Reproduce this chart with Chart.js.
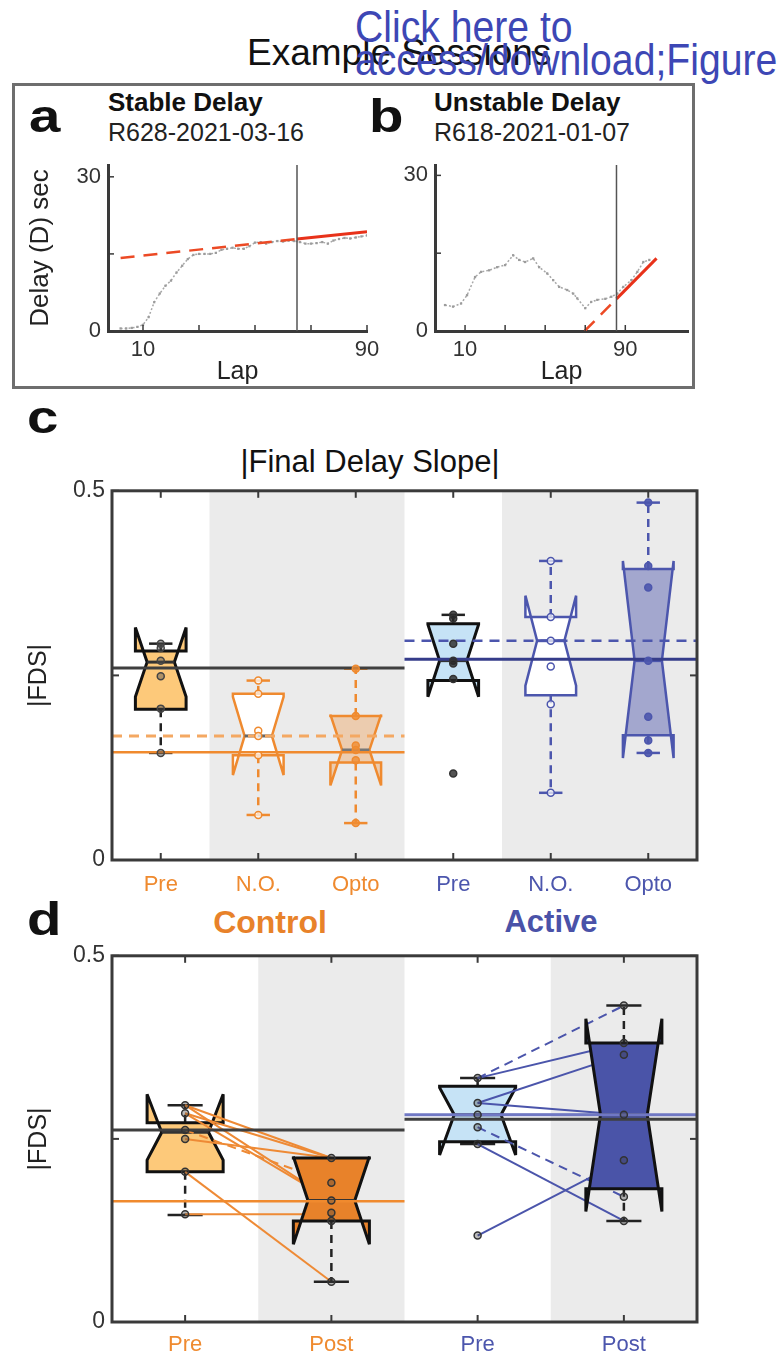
<!DOCTYPE html>
<html><head><meta charset="utf-8">
<script src="https://cdn.jsdelivr.net/npm/chart.js@4.4.1/dist/chart.umd.min.js"></script>
<style>
html,body{margin:0;padding:0;background:#fff;}
body{width:778px;height:1357px;position:relative;overflow:hidden;font-family:"Liberation Sans",Arial,sans-serif;}
.t{position:absolute;white-space:nowrap;line-height:1;}
.cond{transform:scaleX(0.89);transform-origin:left top;}
.lett{transform:scaleX(1.2);transform-origin:left top;font-weight:bold;font-size:47px;color:#111;}
canvas{position:absolute;}
#frame{position:absolute;left:12px;top:83px;width:677px;height:300px;border:3px solid #6e6e6e;}
</style></head><body>
<div id="frame"></div>
<div class="t" style="left:247px;top:34px;font-size:37px;color:#111">Example Sessions</div>
<div class="t cond" style="left:355px;top:5px;font-size:44px;color:#3d47b5">Click here to</div>
<div class="t cond" style="left:355px;top:38px;font-size:44px;color:#3d47b5">access/download;Figure</div>
<div class="t lett" style="left:29px;top:92px;">a</div>
<div class="t" style="left:108px;top:89px;font-size:26px;font-weight:bold;color:#111">Stable Delay</div>
<div class="t" style="left:108px;top:120px;font-size:25px;color:#222">R628-2021-03-16</div>
<div class="t lett" style="left:369px;top:92px;">b</div>
<div class="t" style="left:434px;top:89px;font-size:26px;font-weight:bold;color:#111">Unstable Delay</div>
<div class="t" style="left:434px;top:120px;font-size:25px;color:#222">R618-2021-01-07</div>
<div class="t lett" style="left:27px;top:393px;">c</div>
<div class="t" style="left:0px;width:740px;text-align:center;top:446px;font-size:31px;color:#111">|Final Delay Slope|</div>
<div class="t lett" style="left:27px;top:895px;">d</div>
<div class="t" style="left:170px;width:200px;text-align:center;top:906px;font-size:32px;font-weight:bold;color:#e8822a">Control</div>
<div class="t" style="left:451px;width:200px;text-align:center;top:906px;font-size:31px;font-weight:bold;color:#4a52a8">Active</div>
<script>
// ---------- DATA ----------
// Panel a (stable delay session)
const aLaps  = [2,4,6,8,10,12,14,16,18,20,22,24,26,28,30,32,34,36,38,40,42,44,46,48,50,52,54,56,58,60,62,64,66,68,70,72,74,76,78,80,82,84,86,88,90];
const aDelay = [0.5,0.5,0.6,0.8,1.2,2.7,5.6,7.3,8.8,9.8,11.4,12.7,14.0,14.8,15.0,15.0,15.0,15.2,15.8,16.0,16.2,16.0,16.0,16.5,17.2,17.3,17.0,17.3,17.5,17.4,17.6,17.5,17.3,17.0,17.0,17.1,17.3,17.0,17.6,17.9,18.1,18.0,18.2,18.4,18.6];
const aFitLaps = [2, 65, 90];
const aFitVals = [14.2, 17.9, 19.3];
const aBoundaryLap = 65;
// Panel b (unstable delay session)
const bLaps  = [0,4,8,11,15,18,22,26,30,34,37,40,44,47,51,54,57,61,64,66,70,73,76,80,83,86,89,93,96,99,102];
const bDelay = [5.0,4.7,5.3,6.9,10.4,11.4,11.7,12.3,12.7,14.6,13.7,13.3,14.0,12.3,11.1,9.8,8.5,7.9,7.2,6.3,4.4,5.6,6.0,6.2,6.6,7.2,8.5,9.8,11.4,13.3,13.7];
const bFitLaps = [69.7, 85.6, 105.6];
const bFitVals = [0, 6.2, 14.0];
const bBoundaryLap = 85.6;
const delayTicks = [0, 15, 30];
const delayTickLabels = ['0', '', '30'];
const lapTicks = [10, 30, 50, 70, 90];
const lapTickLabels = ['10', '', '', '', '90'];

// Panel c: |FDS| by condition
const cCategories = ['Pre', 'N.O.', 'Opto', 'Pre', 'N.O.', 'Opto'];
const cQ1      = [0.204, 0.142, 0.132, 0.243, 0.223, 0.169];
const cMedian  = [0.268, 0.168, 0.149, 0.270, 0.297, 0.270];
const cQ3      = [0.283, 0.225, 0.195, 0.320, 0.329, 0.394];
const cNotchLo = [0.221, 0.115, 0.101, 0.221, 0.236, 0.138];
const cNotchHi = [0.315, 0.221, 0.197, 0.319, 0.358, 0.405];
const cWhiskLo = [0.145, 0.061, 0.050, 0.243, 0.091, 0.145];
const cWhiskHi = [0.293, 0.243, 0.259, 0.332, 0.405, 0.484];
const cCtrlPrePts  = [0.293, 0.287, 0.270, 0.249, 0.205, 0.145];
const cCtrlNOPts   = [0.243, 0.225, 0.175, 0.168, 0.142, 0.061];
const cCtrlOptoPts = [0.259, 0.195, 0.155, 0.149, 0.135, 0.050];
const cActPrePts   = [0.332, 0.327, 0.293, 0.270, 0.266, 0.245, 0.117];
const cActNOPts    = [0.405, 0.329, 0.297, 0.262, 0.211, 0.091];
const cActOptoPts  = [0.484, 0.398, 0.369, 0.270, 0.194, 0.162, 0.145];
const cRefValue = [0.260, 0.146, 0.168, 0.272, 0.297];
const cRefFrom  = [0.5, 0.5, 0.5, 3.5, 3.5];
const cRefTo    = [3.5, 3.5, 3.5, 6.5, 6.5];
const cBands = [[1.5, 3.5], [4.5, 6.5]];

// Panel d: Pre vs Post
const dCategories = ['Pre', 'Post', 'Pre', 'Post'];
const dQ1      = [0.205, 0.138, 0.246, 0.182];
const dMedian  = [0.259, 0.166, 0.283, 0.283];
const dQ3      = [0.272, 0.224, 0.322, 0.381];
const dNotchLo = [0.221, 0.106, 0.228, 0.151];
const dNotchHi = [0.311, 0.226, 0.320, 0.414];
const dWhiskLo = [0.146, 0.055, 0.243, 0.138];
const dWhiskHi = [0.296, 0.224, 0.333, 0.432];
const dCtrlPrePts  = [0.296, 0.285, 0.262, 0.250, 0.205, 0.147];
const dCtrlPostPts = [0.224, 0.190, 0.166, 0.149, 0.138, 0.055];
const dActPrePts   = [0.333, 0.299, 0.283, 0.266, 0.243, 0.118];
const dActPostPts  = [0.432, 0.381, 0.365, 0.283, 0.221, 0.171, 0.138];
const dCtrlPairPre  = [0.296, 0.296, 0.285, 0.285, 0.250, 0.262, 0.205, 0.147];
const dCtrlPairPost = [0.224, 0.166, 0.224, 0.166, 0.224, 0.190, 0.055, 0.147];
const dCtrlPairDashed = [0, 0, 0, 0, 0, 1, 0, 0];
const dActPairPre  = [0.333, 0.333, 0.299, 0.299, 0.283, 0.266, 0.243, 0.118];
const dActPairPost = [0.432, 0.381, 0.365, 0.283, 0.283, 0.171, 0.138, 0.221];
const dActPairDashed = [1, 0, 0, 0, 0, 1, 0, 0];
const dRefValue = [0.262, 0.165, 0.277, 0.283];
const dRefFrom  = [0.5, 0.5, 2.5, 2.5];
const dRefTo    = [2.5, 2.5, 4.5, 4.5];
const dBands = [[1.5, 2.5], [3.5, 4.5]];
const fdsTicks = [0, 0.25, 0.5];
const fdsTickLabels = ['0', '', '0.5'];

// ---------- STYLES ----------
const ORANGE = '#ef8a2f', BLUE = '#4c56ad', AXIS = '#3a3a3a';
const cLabelColor = [ORANGE, ORANGE, ORANGE, BLUE, BLUE, BLUE];
const dLabelColor = [ORANGE, ORANGE, BLUE, BLUE];
const cFill  = ['#fdc97a', '#ffffff', 'rgba(240,140,50,0.32)', '#c6e3f6', '#ffffff', 'rgba(75,85,170,0.45)'];
const cEdge  = ['#111111', ORANGE, ORANGE, '#111111', BLUE, BLUE];
const cEdgeW = [3, 2.5, 2.5, 3, 2.5, 2.5];
const cMedC  = ['#333', '#666', '#777', '#333', BLUE, BLUE];
const cPtEdge = ['#444', ORANGE, ORANGE, '#333', BLUE, BLUE];
const cPtFill = ['rgba(80,80,80,0.45)', 'rgba(255,255,255,0.7)', 'rgba(240,140,50,0.8)', 'rgba(40,40,40,0.8)', 'rgba(255,255,255,0.7)', 'rgba(76,86,173,0.9)'];
const cRefColor = ['#3f3f3f', '#f08a2e', '#f4a862', '#353c8a', BLUE];
const cRefWidth = [3, 2.5, 3, 3, 2.5];
const cRefDash  = [[], [], [10, 7], [], [10, 7]];
const dFill  = ['#fdc97a', '#e8822a', '#c6e3f6', '#4a54a8'];
const dLayer = ['under', 'over', 'under', 'over'];
const dRefColor = ['#3f3f3f', '#f08a2e', '#3f3f3f', '#7078c4'];
const dRefWidth = [3, 2.5, 3, 3];

Chart.defaults.font.family = '"Liberation Sans", Arial, sans-serif';
Chart.defaults.color = '#222';
Chart.defaults.animation = false;
Chart.defaults.plugins.legend.display = false;
Chart.defaults.plugins.tooltip.enabled = false;

function placeCanvas(cv) {
  const c = document.createElement('canvas');
  c.width = cv.w; c.height = cv.h;
  c.style.left = cv.left + 'px'; c.style.top = cv.top + 'px';
  c.style.width = cv.w + 'px'; c.style.height = cv.h + 'px';
  document.body.appendChild(c);
  return c;
}
function line(ctx, x0, y0, x1, y1) { ctx.beginPath(); ctx.moveTo(x0, y0); ctx.lineTo(x1, y1); ctx.stroke(); }

// ---------- PANELS a / b ----------
function lapChart(cv, area, xmin, xmax, ymax, laps, delay, fitLaps, fitVals, boundary, yTitle) {
  const canvas = placeCanvas(cv);
  const xH = cv.top + cv.h - area.b, yW = area.l - cv.left;
  const tickPlugin = {
    id: 'inTicks',
    afterDatasetsDraw(chart) {
      const {ctx, chartArea: a, scales: {x, y}} = chart;
      ctx.save(); ctx.strokeStyle = AXIS; ctx.lineWidth = 1.5;
      x.ticks.forEach(t => { const p = x.getPixelForValue(t.value); line(ctx, p, a.bottom, p, a.bottom - 6); });
      y.ticks.forEach(t => { const p = y.getPixelForValue(t.value); line(ctx, a.left, p, a.left + 6, p); });
      ctx.restore();
    }
  };
  new Chart(canvas, {
    type: 'scatter',
    data: { datasets: [
      { data: [{x: boundary, y: 0}, {x: boundary, y: ymax}], showLine: true, borderColor: '#555', borderWidth: 1.5, pointRadius: 0, order: 0 },
      { data: [{x: fitLaps[1], y: fitVals[1]}, {x: fitLaps[2], y: fitVals[2]}], showLine: true, borderColor: '#e8321a', borderWidth: 3, pointRadius: 0, order: 1 },
      { data: [{x: fitLaps[0], y: fitVals[0]}, {x: fitLaps[1], y: fitVals[1]}], showLine: true, borderColor: '#ec4a25', borderWidth: 2.5, borderDash: [14, 9], pointRadius: 0, order: 1 },
      { data: laps.map((l, i) => ({x: l, y: delay[i]})), showLine: true, borderColor: '#a8a8a8', borderWidth: 1.5, borderDash: [2, 2],
        pointStyle: 'rect', pointRadius: 1.6, pointBackgroundColor: '#9c9c9c', pointBorderWidth: 0, order: 2 }
    ]},
    options: {
      responsive: false, devicePixelRatio: 1,
      layout: { padding: { left: 0, top: area.t - cv.top, right: cv.left + cv.w - area.r, bottom: 0 } },
      scales: {
        x: { type: 'linear', min: xmin, max: xmax,
          afterBuildTicks: s => { s.ticks = lapTicks.map(v => ({value: v})); },
          afterFit: s => { s.height = xH; },
          ticks: { callback: (v, i) => lapTickLabels[i], autoSkip: false, maxRotation: 0, padding: 6, font: {size: 22}, color: '#333' },
          grid: { display: false, drawTicks: false },
          border: { display: true, color: AXIS, width: 3 },
          title: { display: true, text: 'Lap', font: {size: 25}, color: '#222', padding: {top: 0, bottom: 5} } },
        y: { type: 'linear', min: 0, max: ymax,
          afterBuildTicks: s => { s.ticks = delayTicks.map(v => ({value: v})); },
          afterFit: s => { s.width = yW; },
          ticks: { callback: (v, i) => delayTickLabels[i], autoSkip: false, padding: 7, font: {size: 22}, color: '#333' },
          grid: { display: false, drawTicks: false },
          border: { display: true, color: AXIS, width: 3 },
          title: { display: !!yTitle, text: yTitle || '', font: {size: 26}, color: '#222', padding: {top: 1, bottom: 0} } }
      }
    },
    plugins: [tickPlugin]
  });
}
lapChart({left: 24, top: 140, w: 366, h: 252}, {l: 108, t: 165, r: 367, b: 331}, -2.5, 90, 32.3, aLaps, aDelay, aFitLaps, aFitVals, aBoundaryLap, 'Delay (D) sec');
lapChart({left: 380, top: 140, w: 312, h: 252}, {l: 435, t: 165, r: 692, b: 331}, -5, 121.3, 32, bLaps, bDelay, bFitLaps, bFitVals, bBoundaryLap, null);

// ---------- PANELS c / d (notched boxes) ----------
function drawBox(ctx, xs, ys, b, geo) {
  const X = v => xs.getPixelForValue(v), Y = v => ys.getPixelForValue(v);
  const L = X(b.x - geo.hw), R = X(b.x + geo.hw), NL = X(b.x - geo.nw), NR = X(b.x + geo.nw), C = X(b.x);
  const CL = X(b.x - geo.cw), CR = X(b.x + geo.cw);
  ctx.save();
  ctx.strokeStyle = b.whisk; ctx.lineWidth = 2.5; ctx.setLineDash([8, 6]);
  if (b.whi > b.q3) line(ctx, C, Y(b.q3), C, Y(b.whi));
  if (b.wlo < b.q1) line(ctx, C, Y(b.q1), C, Y(b.wlo));
  ctx.setLineDash([]);
  if (b.whi > b.q3) line(ctx, CL, Y(b.whi), CR, Y(b.whi));
  if (b.wlo < b.q1) line(ctx, CL, Y(b.wlo), CR, Y(b.wlo));
  ctx.beginPath();
  ctx.moveTo(L, Y(b.q1)); ctx.lineTo(L, Y(b.nlo)); ctx.lineTo(NL, Y(b.med)); ctx.lineTo(L, Y(b.nhi)); ctx.lineTo(L, Y(b.q3));
  ctx.lineTo(R, Y(b.q3)); ctx.lineTo(R, Y(b.nhi)); ctx.lineTo(NR, Y(b.med)); ctx.lineTo(R, Y(b.nlo)); ctx.lineTo(R, Y(b.q1));
  ctx.closePath();
  ctx.fillStyle = b.fill; ctx.fill();
  ctx.lineJoin = 'miter'; ctx.miterLimit = 3;
  ctx.strokeStyle = b.edge; ctx.lineWidth = b.ew; ctx.stroke();
  ctx.strokeStyle = b.medC; ctx.lineWidth = 3;
  line(ctx, NL, Y(b.med), NR, Y(b.med));
  ctx.restore();
}
function boxPlugin(boxes, bands, geo) {
  return {
    id: 'notchBoxes',
    beforeDraw(chart) {
      const {ctx, chartArea: a, scales: {x}} = chart;
      ctx.save(); ctx.fillStyle = '#ebebeb';
      bands.forEach(([b0, b1]) => { const p0 = x.getPixelForValue(b0), p1 = x.getPixelForValue(b1); ctx.fillRect(p0, a.top, p1 - p0, a.bottom - a.top); });
      ctx.restore();
    },
    beforeDatasetsDraw(chart) {
      boxes.filter(b => b.layer === 'under').forEach(b => drawBox(chart.ctx, chart.scales.x, chart.scales.y, b, geo));
    },
    afterDatasetDraw(chart, args) {
      if (chart.data.datasets[args.index].boxesAfter)
        boxes.filter(b => b.layer === 'over').forEach(b => drawBox(chart.ctx, chart.scales.x, chart.scales.y, b, geo));
    },
    afterDatasetsDraw(chart) {
      const {ctx, chartArea: a, scales: {x, y}} = chart;
      ctx.save(); ctx.strokeStyle = AXIS; ctx.lineWidth = 2;
      x.ticks.forEach(t => { const p = x.getPixelForValue(t.value); line(ctx, p, a.bottom, p, a.bottom - 7); line(ctx, p, a.top, p, a.top + 7); });
      y.ticks.forEach(t => { const p = y.getPixelForValue(t.value); line(ctx, a.left, p, a.left + 7, p); line(ctx, a.right, p, a.right - 7, p); });
      ctx.lineWidth = 3; ctx.strokeRect(a.left, a.top, a.right - a.left, a.bottom - a.top);
      ctx.restore();
    }
  };
}
function fdsChart(cv, area, xmax, cats, labelColors, datasets, plugin, labelPad) {
  const canvas = placeCanvas(cv);
  const xH = cv.top + cv.h - area.b, yW = area.l - cv.left;
  const xt = cats.map((_, i) => i + 1);
  new Chart(canvas, {
    type: 'scatter',
    data: { datasets },
    options: {
      responsive: false, devicePixelRatio: 1,
      layout: { padding: { left: 0, top: area.t - cv.top, right: cv.left + cv.w - area.r, bottom: 0 } },
      scales: {
        x: { type: 'linear', min: 0.5, max: xmax,
          afterBuildTicks: s => { s.ticks = xt.map(v => ({value: v})); },
          afterFit: s => { s.height = xH; },
          ticks: { callback: (v, i) => cats[i], autoSkip: false, maxRotation: 0, padding: labelPad, font: {size: 22}, color: c => labelColors[c.index] },
          grid: { display: false, drawTicks: false }, border: { display: false } },
        y: { type: 'linear', min: 0, max: 0.5,
          afterBuildTicks: s => { s.ticks = fdsTicks.map(v => ({value: v})); },
          afterFit: s => { s.width = yW; },
          ticks: { callback: (v, i) => fdsTickLabels[i], autoSkip: false, padding: 7, font: {size: 23}, color: '#333' },
          grid: { display: false, drawTicks: false }, border: { display: false },
          title: { display: true, text: '|FDS|', font: {size: 25}, color: '#222', padding: {top: 4, bottom: 0} } }
      }
    },
    plugins: [plugin]
  });
}

// panel c
const cPts = [cCtrlPrePts, cCtrlNOPts, cCtrlOptoPts, cActPrePts, cActNOPts, cActOptoPts];
const cBoxes = cQ1.map((_, i) => ({ x: i + 1, q1: cQ1[i], med: cMedian[i], q3: cQ3[i], nlo: cNotchLo[i], nhi: cNotchHi[i],
  wlo: cWhiskLo[i], whi: cWhiskHi[i], fill: cFill[i], edge: cEdge[i], ew: cEdgeW[i], whisk: cEdge[i] === '#111111' ? '#222' : cEdge[i], medC: cMedC[i], layer: 'under' }));
const cDatasets = [];
cPts.forEach((arr, i) => cDatasets.push({ data: arr.map(v => ({x: i + 1, y: v})), pointRadius: 3.5, pointBorderWidth: 1.5,
  pointBorderColor: cPtEdge[i], pointBackgroundColor: cPtFill[i], order: 0 }));
cRefValue.forEach((v, i) => cDatasets.push({ data: [{x: cRefFrom[i], y: v}, {x: cRefTo[i], y: v}], showLine: true,
  borderColor: cRefColor[i], borderWidth: cRefWidth[i], borderDash: cRefDash[i], pointRadius: 0, order: 1 }));
fdsChart({left: 20, top: 470, w: 700, h: 425}, {l: 112, t: 490, r: 697, b: 860}, 6.5, cCategories, cLabelColor, cDatasets,
  boxPlugin(cBoxes, cBands, {hw: 0.26, nw: 0.14, cw: 0.12}), 12);

// panel d
const dPts = [dCtrlPrePts, dCtrlPostPts, dActPrePts, dActPostPts];
const dBoxes = dQ1.map((_, i) => ({ x: i + 1, q1: dQ1[i], med: dMedian[i], q3: dQ3[i], nlo: dNotchLo[i], nhi: dNotchHi[i],
  wlo: dWhiskLo[i], whi: dWhiskHi[i], fill: dFill[i], edge: '#111', ew: 3, whisk: '#222', medC: '#333', layer: dLayer[i] }));
const dDatasets = [];
dPts.forEach((arr, i) => dDatasets.push({ data: arr.map(v => ({x: i + 1, y: v})), pointRadius: 3.5, pointBorderWidth: 1.5,
  pointBorderColor: '#333', pointBackgroundColor: 'rgba(60,60,60,0.35)', order: 0 }));
dRefValue.forEach((v, i) => dDatasets.push({ data: [{x: dRefFrom[i], y: v}, {x: dRefTo[i], y: v}], showLine: true,
  borderColor: dRefColor[i], borderWidth: dRefWidth[i], pointRadius: 0, order: 1 }));
let firstPair = true;
dCtrlPairPre.forEach((v, i) => { dDatasets.push({ data: [{x: 1, y: v}, {x: 2, y: dCtrlPairPost[i]}], showLine: true, borderColor: '#ee8a35',
  borderWidth: 2, borderDash: dCtrlPairDashed[i] ? [9, 6] : [], pointRadius: 0, order: 5, boxesAfter: firstPair }); firstPair = false; });
dActPairPre.forEach((v, i) => { dDatasets.push({ data: [{x: 3, y: v}, {x: 4, y: dActPairPost[i]}], showLine: true, borderColor: '#4b55ab',
  borderWidth: 2, borderDash: dActPairDashed[i] ? [9, 6] : [], pointRadius: 0, order: 5 }); });
fdsChart({left: 20, top: 935, w: 700, h: 422}, {l: 112, t: 952, r: 697, b: 1322}, 4.5, dCategories, dLabelColor, dDatasets,
  boxPlugin(dBoxes, dBands, {hw: 0.26, nw: 0.16, cw: 0.12}), 10);
</script>
</body></html>
